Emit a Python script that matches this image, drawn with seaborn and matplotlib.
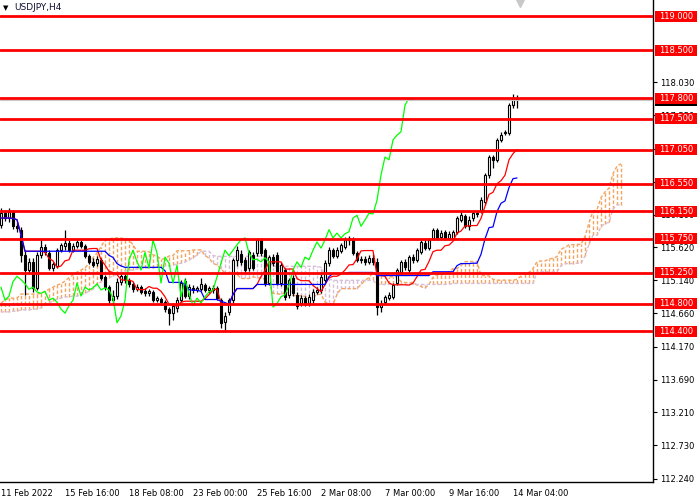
import numpy as np
import pandas as pd
import matplotlib
matplotlib.use("Agg")
import matplotlib.pyplot as plt
import matplotlib.transforms as mtransforms
from matplotlib.patches import Rectangle
import seaborn as sns

# ---------------- data (USDJPY, H4) ----------------
opens = [115.95,116.12,116.05,116.14,115.93,115.88,115.51,115.29,115.41,115.03,
         115.51,115.63,115.54,115.32,115.35,115.58,115.64,115.69,115.58,115.64,
         115.70,115.64,115.50,115.41,115.39,115.44,115.19,115.04,114.85,114.91,
         115.12,115.20,115.15,115.09,115.01,115.04,114.98,114.95,114.97,114.85,
         114.87,114.82,114.72,114.66,114.74,114.85,115.13,114.91,115.03,115.00,
         115.01,115.07,115.00,115.03,115.03,114.85,114.53,114.68,114.85,115.44,
         115.52,115.44,115.32,115.51,115.54,115.73,115.58,115.10,115.48,115.51,
         115.10,115.29,114.93,115.18,114.93,114.81,114.88,114.81,114.85,114.97,
         115.00,115.15,115.39,115.58,115.50,115.57,115.63,115.73,115.73,115.54,
         115.44,115.45,115.41,115.47,115.41,114.75,114.82,114.88,114.90,115.10,
         115.26,115.41,115.29,115.48,115.44,115.55,115.69,115.61,115.76,115.88,
         115.77,115.85,115.76,115.76,115.85,116.02,116.08,115.93,116.05,116.12,
         116.17,116.28,116.68,116.94,116.90,117.19,117.29,117.29,117.70,117.80]
closes = [116.12,116.05,116.14,115.93,115.90,115.51,115.29,115.41,115.03,115.51,
          115.63,115.55,115.32,115.38,115.58,115.66,115.69,115.58,115.64,115.70,
          115.64,115.50,115.41,115.36,115.45,115.18,115.04,114.85,114.91,115.12,
          115.20,115.15,115.09,115.01,115.04,114.97,114.95,114.98,114.85,114.88,
          114.82,114.72,114.66,114.77,114.85,115.10,114.91,115.04,115.00,115.03,
          115.09,115.00,115.03,115.00,114.88,114.52,114.62,114.85,115.44,115.58,
          115.41,115.29,115.55,115.32,115.73,115.54,115.10,115.48,115.39,115.10,
          115.36,114.90,115.15,114.95,114.77,114.88,114.81,114.90,114.97,115.00,
          115.19,115.39,115.58,115.50,115.58,115.66,115.73,115.76,115.54,115.44,
          115.45,115.41,115.47,115.41,114.75,114.80,114.90,114.93,115.07,115.29,
          115.41,115.33,115.48,115.44,115.58,115.70,115.61,115.73,115.88,115.76,
          115.83,115.76,115.82,115.85,116.05,116.09,115.93,116.02,116.12,116.11,
          116.31,116.68,116.94,116.90,117.19,117.26,117.31,117.70,117.80,117.77]
highs = [116.20,116.17,116.20,116.17,115.99,115.92,115.58,115.47,115.47,115.55,
         115.73,115.67,115.58,115.41,115.61,115.69,115.88,115.73,115.69,115.73,
         115.73,115.67,115.52,115.47,115.50,115.47,115.22,115.07,115.00,115.18,
         115.23,115.23,115.18,115.12,115.09,115.07,115.03,115.01,115.00,114.91,
         114.90,114.85,114.75,114.81,114.90,115.15,115.18,115.09,115.07,115.06,
         115.18,115.10,115.06,115.07,115.06,114.88,114.68,114.88,115.47,115.64,
         115.58,115.48,115.58,115.55,115.76,115.76,115.61,115.51,115.52,115.55,
         115.41,115.32,115.18,115.22,114.97,114.93,114.91,114.94,115.01,115.04,
         115.23,115.44,115.63,115.61,115.63,115.69,115.77,115.79,115.77,115.57,
         115.50,115.50,115.51,115.52,115.47,114.85,114.93,114.97,115.10,115.32,
         115.44,115.45,115.51,115.52,115.61,115.73,115.73,115.76,115.90,115.90,
         115.88,115.88,115.86,115.88,116.08,116.14,116.11,116.08,116.15,116.15,
         116.36,116.71,116.97,116.97,117.22,117.31,117.34,117.73,117.86,117.85]
lows = [115.90,116.01,115.99,115.89,115.85,115.41,114.93,115.23,114.97,115.00,
        115.47,115.51,115.29,115.28,115.32,115.55,115.58,115.55,115.55,115.61,
        115.61,115.47,115.38,115.33,115.35,115.15,115.00,114.81,114.78,114.87,
        115.07,115.10,115.04,114.97,114.98,114.94,114.91,114.91,114.82,114.82,
        114.78,114.68,114.49,114.56,114.68,114.82,114.88,114.87,114.95,114.97,
        114.98,114.97,114.95,114.95,114.85,114.44,114.40,114.63,114.81,115.35,
        115.36,115.26,115.28,115.29,115.50,115.50,115.06,115.07,115.35,115.07,
        115.06,114.85,114.88,114.91,114.72,114.77,114.77,114.77,114.81,114.94,
        114.95,115.12,115.35,115.47,115.47,115.54,115.60,115.66,115.51,115.41,
        115.39,115.36,115.38,115.36,114.63,114.68,114.78,114.85,114.87,115.07,
        115.22,115.29,115.26,115.39,115.41,115.52,115.58,115.58,115.73,115.73,
        115.73,115.73,115.73,115.73,115.82,115.99,115.90,115.88,116.01,116.07,
        116.12,116.24,116.63,116.78,116.87,117.16,117.26,117.26,117.66,117.66]

# leading spans where their window reaches before the first visible bar
span_a_early = [114.81,114.85,114.88,114.88,114.88,114.94,114.94,114.94,114.94,114.94,
                114.95,114.98,115.01,115.04,115.07,115.09,115.13,115.18,115.22,115.26,
                115.29,115.32,115.39,115.47,115.54,115.63,115.73,115.74,115.76,115.76,
                115.76,115.74,115.73,115.66]
span_b_early = [114.68,114.68,114.68,114.69,114.69,114.71,114.71,114.71,114.72,114.72,
                114.74,114.78,114.81,114.84,114.87,114.88,114.90,114.90,114.91,114.91,
                114.93,114.95,114.98,115.01,115.07,115.12,115.15,115.18,115.20,115.23,
                115.26,115.28,115.29,115.29,115.31,115.31,115.32,115.32,115.32,115.33,
                115.33,115.35,115.35,115.36,115.38,115.39,115.41,115.44,115.47,115.51]

levels = [119.0, 118.5, 117.8, 117.5, 117.05, 116.55, 116.15, 115.75, 115.25, 114.8, 114.4]
level_labels = ["119.000", "118.500", "117.800", "117.500", "117.050", "116.550",
                "116.150", "115.750", "115.250", "114.800", "114.400"]
ytick_vals = [112.24, 112.73, 113.21, 113.69, 114.17, 114.66, 115.14, 115.62,
              116.10, 116.58, 117.06, 117.55, 118.03]
ytick_labels = ["112.240", "112.730", "113.210", "113.690", "114.170", "114.660",
                "115.140", "115.620", "116.100", "116.580", "117.060", "117.550", "118.030"]
xtick_bars = [0, 16, 32, 48, 64, 80, 96, 112, 128]
xtick_labels = ["11 Feb 2022", "15 Feb 16:00", "18 Feb 08:00", "23 Feb 00:00",
                "25 Feb 16:00", "2 Mar 08:00", "7 Mar 00:00", "9 Mar 16:00", "14 Mar 04:00"]
symbol_label = "USDJPY,H4"

# ---------------- build ----------------
sns.set_style("white")
plt.rcParams["font.family"] = ["DejaVu Sans"]

O = np.array(opens); C = np.array(closes); H = np.array(highs); L = np.array(lows)
n = len(C)
idx = np.arange(n)
hs, ls = pd.Series(H), pd.Series(L)
tenkan = ((hs.rolling(9, min_periods=1).max() + ls.rolling(9, min_periods=1).min()) / 2).values
kijun = ((hs.rolling(26, min_periods=1).max() + ls.rolling(26, min_periods=1).min()) / 2).values
a_raw = (tenkan + kijun) / 2
b_raw = ((hs.rolling(52, min_periods=1).max() + ls.rolling(52, min_periods=1).min()) / 2).values
na, nb = len(span_a_early), len(span_b_early)
span_a = np.concatenate([span_a_early, a_raw[na - 26:]])
span_b = np.concatenate([span_b_early, b_raw[nb - 26:]])
xs = np.arange(len(span_a))

fig = plt.figure(figsize=(7, 5), dpi=100)
fig.patch.set_facecolor("white")
ax = fig.add_axes([0, 18 / 500, 653 / 700, 482 / 500])
ax.set_facecolor("white")
ax.set_xlim(-0.25, 163.0)
ax.set_ylim(112.195, 119.234)

# cloud hatch
cols = np.where(span_a >= span_b, "#F4A460", "#D8BFD8")
ax.vlines(xs, np.minimum(span_a, span_b), np.maximum(span_a, span_b), colors=cols,
          linestyles=(0, (2.5, 1.5)), lw=1.0, zorder=1)
sns.lineplot(x=xs, y=span_a, color="#F4A460", lw=1.0, linestyle=(0, (2.5, 1.5)), ax=ax, zorder=1.5)
sns.lineplot(x=xs, y=span_b, color="#D8BFD8", lw=1.0, linestyle=(0, (2.5, 1.5)), ax=ax, zorder=1.5)

# candles
ax.vlines(idx, L, H, color="black", lw=0.9, zorder=3)
body_lo = np.minimum(O, C)
body_h = np.maximum(np.abs(C - O), 0.004)
ax.bar(idx, body_h, bottom=body_lo, width=0.62,
       color=np.where(C >= O, "white", "black"), edgecolor="black", linewidth=0.8, zorder=4)

# ichimoku lines
sns.lineplot(x=idx, y=tenkan, color="#FF0000", lw=0.9, ax=ax, zorder=5)
sns.lineplot(x=idx, y=kijun, color="#0000FF", lw=0.9, ax=ax, zorder=5)
sns.lineplot(x=idx[:n - 26], y=C[26:], color="#00FF00", lw=0.9, ax=ax, zorder=5)

# bid line and levels
ax.axhline(C[-1], color="#C8C8C8", lw=0.8, zorder=5.5)
for lv in levels:
    ax.axhline(lv, color="#FF0000", lw=2.0, zorder=6)

trans = mtransforms.blended_transform_factory(ax.transAxes, ax.transData)
ppx = (119.234 - 112.195) / 482.0
box_h = 11 * ppx
bx0, bw = 655 / 653, 42 / 653
ax.add_patch(Rectangle((bx0, C[-1] - box_h / 2), bw, box_h, transform=trans,
                       facecolor="black", edgecolor="none", clip_on=False, zorder=6.9))
for lv, lab in zip(levels, level_labels):
    ax.add_patch(Rectangle((bx0, lv - box_h / 2), bw, box_h, transform=trans,
                           facecolor="#FF0000", edgecolor="none", clip_on=False, zorder=7))
    ax.text(bx0 + bw / 2, lv, lab, transform=trans, ha="center", va="center",
            color="white", fontsize=6, clip_on=False, zorder=8)

# axes styling
for s in ["top", "left"]:
    ax.spines[s].set_visible(False)
for s in ["right", "bottom"]:
    ax.spines[s].set_color("black")
    ax.spines[s].set_linewidth(1.0)
ax.yaxis.tick_right()
ax.set_yticks(ytick_vals)
ax.set_yticklabels(ytick_labels)
ax.tick_params(axis="y", direction="out", length=3, width=0.8, pad=2, labelsize=6, colors="black")
ax.set_xticks(xtick_bars)
ax.set_xticklabels(xtick_labels)
ax.tick_params(axis="x", direction="out", length=4, width=0.8, pad=1, labelsize=6, colors="black")
for t in ax.get_xticklabels():
    t.set_ha("left")
ax.set_xlabel("")
ax.set_ylabel("")
ax.grid(False)

# header
fig.text(3 / 700, 1 - 8 / 500, "▼", fontsize=5, va="center", ha="left", color="black")
fig.text(14 / 700, 1 - 8 / 500, symbol_label, fontsize=6.5, va="center", ha="left", color="#101030")
ax.plot([520 / 653], [1 - 3 / 482], marker="v", color="#C8C8C8", ms=6,
        transform=ax.transAxes, clip_on=False, zorder=9)

fig.savefig("out.png", dpi=100)
